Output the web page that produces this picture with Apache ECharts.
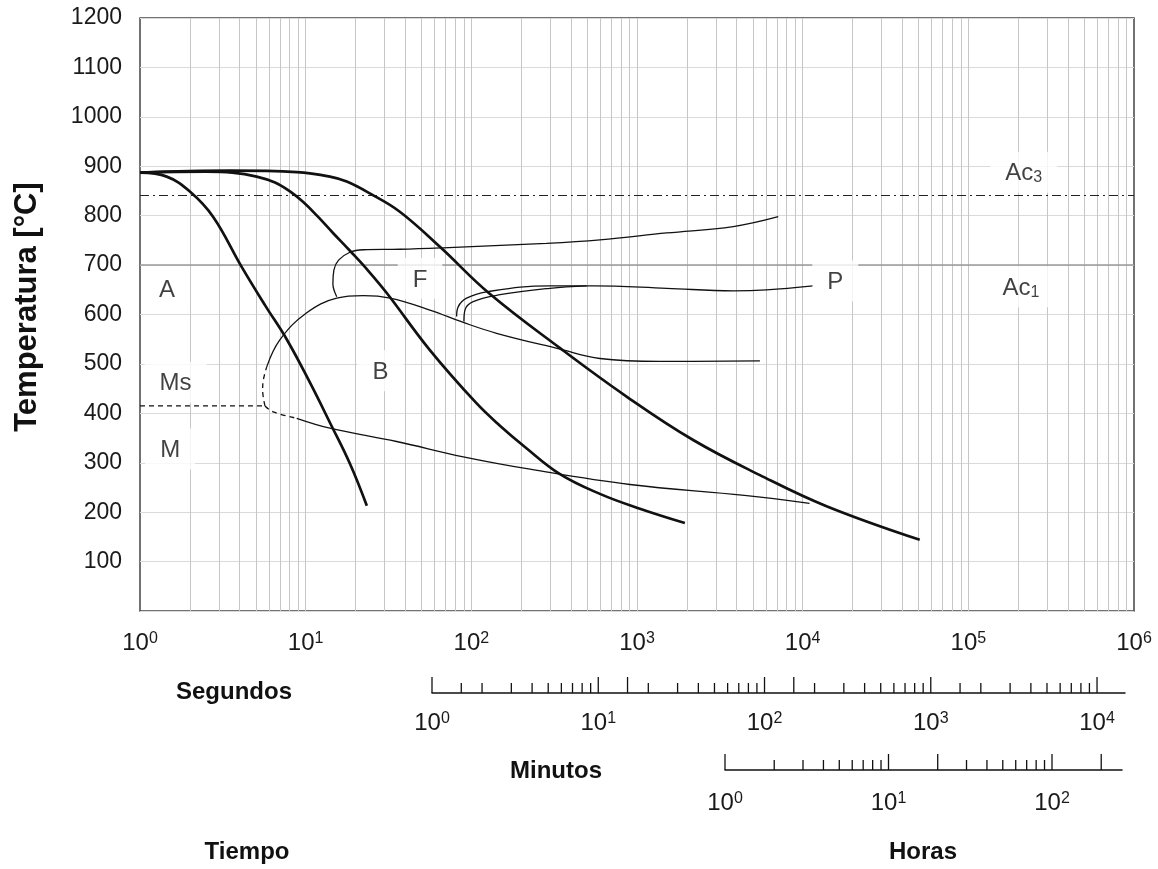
<!DOCTYPE html>
<html><head><meta charset="utf-8">
<script src="https://cdn.jsdelivr.net/npm/echarts@6/dist/echarts.min.js"></script>
<style>html,body{margin:0;padding:0;background:#fff}#c{width:1158px;height:869px}</style>
</head><body><div id="c"></div>
<script>
// ---------- data (time in s, temperature in °C) ----------
const coolingFast = [[1,887],[1.45,879],[2.0,849],[2.76,798],[4.1,697],[5.68,619],[7.71,549],[10.62,462],[14.02,381],[18.51,298],[23.4,213]];
const coolingMid = [[1,887],[2.5,889],[3.6,887],[5.06,879],[6.53,867],[8.04,849],[9.63,828],[11.7,800],[14.62,765],[18.5,729],[23.8,689],[30.95,643],[56.2,528],[107,421],[148.8,375],[210.6,332],[343,277],[597,237],[1041,207],[1945,178]];
const coolingSlow = [[1,887],[3.5,891],[8.83,888],[14,879],[17.7,869],[24.4,845],[37,808],[64.6,737],[128,643],[343,532],[865,434],[2183,346],[5520,275],[13930,212],[50900,144]];
const ferriteStart = [[15.4,636],[14.6,662],[14.8,690],[15.8,710],[18.5,726],[22.3,731],[37.1,732],[67.4,735],[284,744],[597,751],[1510,765],[3810,778],[7120,798]];
const bainiteStartDashed = [[5.68,415],[5.5,447],[5.55,467],[5.82,494]];
const bainiteStart = [[5.82,494],[7.0,549],[10.1,603],[15.4,633],[22.3,638],[32.3,633],[56.2,609],[89.4,584],[142,562],[343,530],[597,511],[1375,505],[5520,506]];
const pearliteStartA = [[81.5,596],[83.4,616],[93.6,633],[123.6,646],[298,658],[545,658],[1510,653],[3810,648],[6050,650],[11570,658]];
const pearliteStartB = [[90.2,586],[91.5,609],[102.6,626],[149,640],[298,653],[497,658]];
const transformEndDashed = [[5.68,415],[6.37,403],[8.83,390]];
const transformEnd = [[8.83,390],[14,370],[35.4,343],[89.4,312],[226,287],[906,256],[4446,234],[11000,218]];
const msLine = [[1,415],[5.68,415]];
const ac3Temp = 842;
const ac1Temp = 700;

const regionLabels = ['A','Ms','M','B','F','P','Ac{sub|3}','Ac{sub|1}'];
const regionTimes  = [1.456, 1.64, 1.52, 28.3, 49, 15740, 216000, 207500];
const regionTemps  = [652, 463, 328, 486, 673, 668, 888, 656];

const gridMultipliers = [2,3,4,5,6,7,8,9];
const secondDecades = [1,10,100,1000,10000,100000,1000000];

const minuteMajorTicks = [1,10,15,100,150,1000,10000];
const minuteMinorTicks = [1.5,2,3,4,5,6,7,8,9, 20,30,40,50,60,70,80,90, 200,300,400,500,600,700,800,900, 1500,2000,3000,4000,5000,6000,7000,8000,9000];
const hourMajorTicks = [1,10,20,100,200];
const hourMinorTicks = [2,3,4,5,6,7,8,9, 30,40,50,60,70,80,90];

// ---------- chart ----------
const FONT = '"Liberation Sans", Arial, Helvetica, sans-serif';
const chart = echarts.init(document.getElementById('c'), null, {renderer:'canvas'});

const verticalGrid = [];
secondDecades.forEach(d => gridMultipliers.forEach(m => { if (d*m < 1e6) verticalGrid.push(d*m); }));
secondDecades.slice(1,6).forEach(d => verticalGrid.push(d));

function powLabel(v){
  const l = Math.log10(v);
  if (Math.abs(l - Math.round(l)) > 1e-6) return '';
  return '10{sup|' + Math.round(l) + '}';
}
const supRich = {sup:{fontSize:16, lineHeight:14, verticalAlign:'top', color:'#1a1a1a', fontFamily:FONT}};
const axisLabelStyle = {fontSize:24, lineHeight:25, color:'#1a1a1a', fontFamily:FONT, formatter: powLabel, rich: supRich, margin:20};

function curve(data, width, dashed, smoothness){
  return {type:'line', data:data, xAxisIndex:0, yAxisIndex:0, showSymbol:false, symbol:'none',
    smooth: smoothness === undefined ? 0.4 : smoothness, silent:true,
    lineStyle:{color:'#111', width:width, type: dashed ? [5,4] : 'solid'}, z:5};
}
function tickSeries(idx, major, minor){
  const data = major.map(v => [v, 1]).concat(minor.map(v => [v, 0]));
  return {type:'custom', xAxisIndex:idx, yAxisIndex:idx, silent:true, clip:false, data:data,
    renderItem:(params, api) => {
      const p = api.coord([api.value(0), 0]);
      const len = api.value(1) ? 16 : 10;
      return {type:'line', shape:{x1:p[0], y1:p[1], x2:p[0], y2:p[1]-len}, style:{stroke:'#111', lineWidth:1.3}};
    }};
}

const option = {
  backgroundColor:'#fff',
  animation:false,
  grid:[
    {left:140, right:24, top:18, bottom:258, show:true, borderColor:'#444', borderWidth:1.5, backgroundColor:'transparent'},
    {left:432, right:33, top:640, height:53},
    {left:725, right:36, top:717, height:53}
  ],
  xAxis:[
    {gridIndex:0, type:'log', logBase:10, min:1, max:1e6, axisLine:{show:false}, axisTick:{show:false}, splitLine:{show:false}, axisLabel:axisLabelStyle},
    {gridIndex:1, type:'log', logBase:10, min:1, max:14730, axisLine:{show:true, lineStyle:{color:'#111', width:1.5}}, axisTick:{show:false}, splitLine:{show:false}, axisLabel:Object.assign({}, axisLabelStyle, {margin:18})},
    {gridIndex:2, type:'log', logBase:10, min:1, max:268, axisLine:{show:true, lineStyle:{color:'#111', width:1.5}}, axisTick:{show:false}, splitLine:{show:false}, axisLabel:Object.assign({}, axisLabelStyle, {margin:21})}
  ],
  yAxis:[
    {gridIndex:0, type:'value', min:0, max:1200, interval:100, axisLine:{show:false}, axisTick:{show:false},
      splitLine:{show:true, lineStyle:{color:'#dadada', width:1}},
      axisLabel:{fontSize:23, color:'#1a1a1a', fontFamily:FONT, margin:18, formatter:v => v === 0 ? '' : String(v)}},
    {gridIndex:1, type:'value', min:0, max:1, show:false},
    {gridIndex:2, type:'value', min:0, max:1, show:false}
  ],
  graphic:[
    {type:'text', x:27, y:307, rotation:Math.PI/2, style:{text:'Temperatura [°C]', font:'bold 31px ' + FONT, fill:'#111', textAlign:'center', textVerticalAlign:'middle'}},
    {type:'text', x:234, y:692, style:{text:'Segundos', font:'bold 24px ' + FONT, fill:'#111', textAlign:'center', textVerticalAlign:'middle'}},
    {type:'text', x:556, y:771, style:{text:'Minutos', font:'bold 24px ' + FONT, fill:'#111', textAlign:'center', textVerticalAlign:'middle'}},
    {type:'text', x:247, y:852, style:{text:'Tiempo', font:'bold 24px ' + FONT, fill:'#111', textAlign:'center', textVerticalAlign:'middle'}},
    {type:'text', x:923, y:852, style:{text:'Horas', font:'bold 24px ' + FONT, fill:'#111', textAlign:'center', textVerticalAlign:'middle'}}
  ],
  series:[
    {type:'line', data:[], xAxisIndex:0, yAxisIndex:0, silent:true, z:1,
      markLine:{silent:true, symbol:['none','none'], label:{show:false}, animation:false,
        lineStyle:{color:'#c6c6c6', width:1, type:'solid'},
        data: verticalGrid.map(v => ({xAxis:v}))}},
    {type:'line', data:[], xAxisIndex:0, yAxisIndex:0, silent:true, z:2,
      markLine:{silent:true, symbol:['none','none'], label:{show:false}, animation:false,
        data:[
          {yAxis:ac1Temp, lineStyle:{color:'#9a9a9a', width:1.6, type:'solid'}},
          {yAxis:ac3Temp, lineStyle:{color:'#222', width:1.2, type:[9,4,2,4]}}
        ]}},
    curve(coolingFast, 2.7),
    curve(coolingMid, 2.7),
    curve(coolingSlow, 2.7),
    curve(ferriteStart, 1.3),
    curve(bainiteStartDashed, 1.3, true),
    curve(bainiteStart, 1.3),
    curve(pearliteStartA, 1.3),
    curve(pearliteStartB, 1.3),
    curve(transformEndDashed, 1.3, true),
    curve(transformEnd, 1.3),
    curve(msLine, 1.3, true, false),
    {type:'scatter', xAxisIndex:0, yAxisIndex:0, silent:true, z:20, symbolSize:1, itemStyle:{color:'rgba(0,0,0,0)'},
      data: regionLabels.map((t,i) => ({value:[regionTimes[i], regionTemps[i]], name:t})),
      label:{show:true, position:'inside', formatter: p => p.name, fontSize:24, color:'#111', fontFamily:FONT,
        backgroundColor:'#fff', padding:[10,15,7,15],
        rich:{sub:{fontSize:16, color:'#111', fontFamily:FONT, verticalAlign:'bottom', lineHeight:8}}}},
    tickSeries(1, minuteMajorTicks, minuteMinorTicks),
    tickSeries(2, hourMajorTicks, hourMinorTicks)
  ]
};
chart.setOption(option);
</script>
</body></html>
